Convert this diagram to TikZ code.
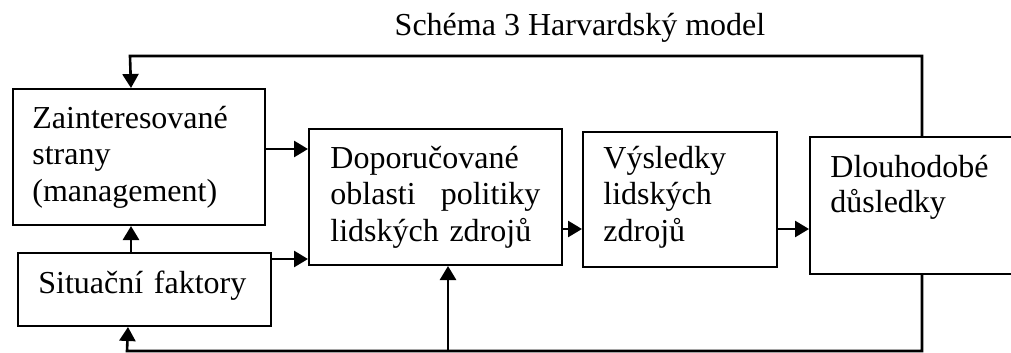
\documentclass[tikz,border=0pt]{standalone}
\usepackage{fontspec}
\setmainfont{Liberation Serif}
\usetikzlibrary{arrows.meta}

\tikzset{
  blok/.style={draw, line width=1pt, inner sep=0pt, anchor=north west},
  popis/.style={anchor=base west, inner sep=0pt, align=left,
    font=\fontsize{16pt}{18.4pt}\selectfont},
  sipka/.style={line width=1.3pt, -{Triangle[length=7pt,width=8pt]}}
}

\begin{document}
\begin{tikzpicture}[x=0.5pt, y=-0.5pt]
    \useasboundingbox (0,0) rectangle (1011,353);

    % Title
    \node[popis, anchor=base] (nadpis) at (580,36) {Schéma 3 Harvardský model};

    % Boxes
    \node[blok, minimum width=126pt, minimum height=68pt] (zaint) at (12,88) {};
    \node[blok, minimum width=126.5pt, minimum height=36.5pt] (situ) at (17,252) {};
    \node[blok, minimum width=126.5pt, minimum height=68pt] (dopor) at (308,128) {};
    \node[blok, minimum width=97pt, minimum height=67.5pt] (vysl) at (582,131) {};
    \node[blok, minimum width=112pt, minimum height=68.5pt] (dlouh) at (809,136) {};

    % Texts in the boxes
    \node[popis, text width=112pt] (zaintT) at (32,128) {Zainteresované\\strany\\(management)};
    \node[popis, text width=112pt] (situT) at (38,293) {Situační faktory};
    \node[popis, text width=105pt] (doporT) at (330,168)
        {Doporučované\\oblasti\hfill politiky\\lidských zdrojů};
    \node[popis, text width=80pt] (vyslT) at (603,168) {Výsledky\\lidských\\zdrojů};
    \node[popis, text width=85pt, font=\fontsize{16pt}{17.5pt}\selectfont] (dlouhT) at (830,177)
        {Dlouhodobé\\důsledky};

    % Forward arrows
    \path ([yshift=4pt]zaint.east) coordinate (z1);
    \draw[sipka] (z1) -- (z1 -| dopor.west);
    \path ([yshift=15.25pt]situ.east) coordinate (s1);
    \draw[sipka] (s1) -- (s1 -| dopor.west);
    \draw[sipka] ([xshift=-6.75pt]situ.north) -- ([xshift=-6.75pt]situ.north |- zaint.south);
    \path ([yshift=-16pt]dopor.east) coordinate (d1);
    \draw[sipka] (d1) -- (d1 -| vysl.west);
    \path ([yshift=-14.75pt]vysl.east) coordinate (v1);
    \draw[sipka] (v1) -- (v1 -| dlouh.west);

    % Feedback loops
    \coordinate (horni) at (130,56);
    \coordinate (dolni) at (127,351);
    \draw[sipka] (dlouh.north) |- (horni) -- ([xshift=-4pt]zaint.north);
    \draw[sipka] (dlouh.south) |- (dolni) -- ([xshift=-8.25pt]situ.south);
    \draw[sipka] ([xshift=6.25pt]dopor.south |- dolni) -- ([xshift=6.25pt]dopor.south);
\end{tikzpicture}
\end{document}
